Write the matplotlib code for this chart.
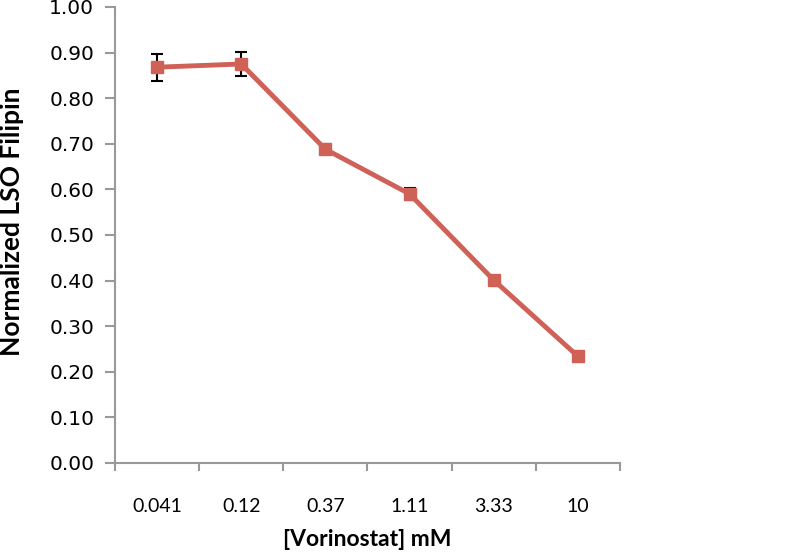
import matplotlib
matplotlib.use("Agg")
import matplotlib.pyplot as plt

categories = ["0.041", "0.12", "0.37", "1.11", "3.33", "10"]
values = [0.868, 0.875, 0.688, 0.590, 0.401, 0.234]
errors = [0.030, 0.027, 0.011, 0.013, 0.005, 0.005]
yticks = [0.0, 0.1, 0.2, 0.3, 0.4, 0.5, 0.6, 0.7, 0.8, 0.9, 1.0]

plt.rcParams['font.family'] = ['Lato', 'DejaVu Sans']

fig = plt.figure(figsize=(7.92, 5.53), dpi=100)
ax = fig.add_axes([115/792, 90/553, 505/792, 456/553])

x = list(range(len(categories)))
color = "#CF6157"
ax.errorbar(x, values, yerr=errors, fmt='none', ecolor='black', elinewidth=1.5,
            capsize=4, capthick=1.5, zorder=2)
ax.plot(x, values, color=color, lw=3.5, marker='s', markersize=9,
        markerfacecolor=color, markeredgecolor=color, zorder=3)

ax.set_xlim(-0.5, len(categories) - 0.5)
ax.set_ylim(0, 1.0)
ax.set_yticks(yticks)
ax.set_yticklabels([f"{v:.2f}" for v in yticks], fontfamily='DejaVu Sans', fontsize=14.5)
ax.set_xticks(x)
ax.set_xticklabels(categories, fontsize=14)
ax.set_xticks([i - 0.5 for i in range(len(categories) + 1)], minor=True)
ax.tick_params(axis='x', which='major', length=0, pad=25)
ax.tick_params(axis='x', which='minor', length=6, color='#999999', width=1.5, direction='out')
ax.tick_params(axis='y', length=7, color='#999999', width=1.5, direction='out', pad=8)

for s in ['top', 'right']:
    ax.spines[s].set_visible(False)
for s in ['left', 'bottom']:
    ax.spines[s].set_color('#999999')
    ax.spines[s].set_linewidth(1.5)

ax.set_xlabel("[Vorinostat] mM", fontsize=16.5, fontweight='bold', labelpad=10)
ax.set_ylabel("Normalized LSO Filipin", fontsize=19, fontweight='bold')
ax.yaxis.set_label_coords(-0.18, 0.528)
ax.yaxis.label.set_horizontalalignment('center')

fig.savefig("out.png", dpi=100)
